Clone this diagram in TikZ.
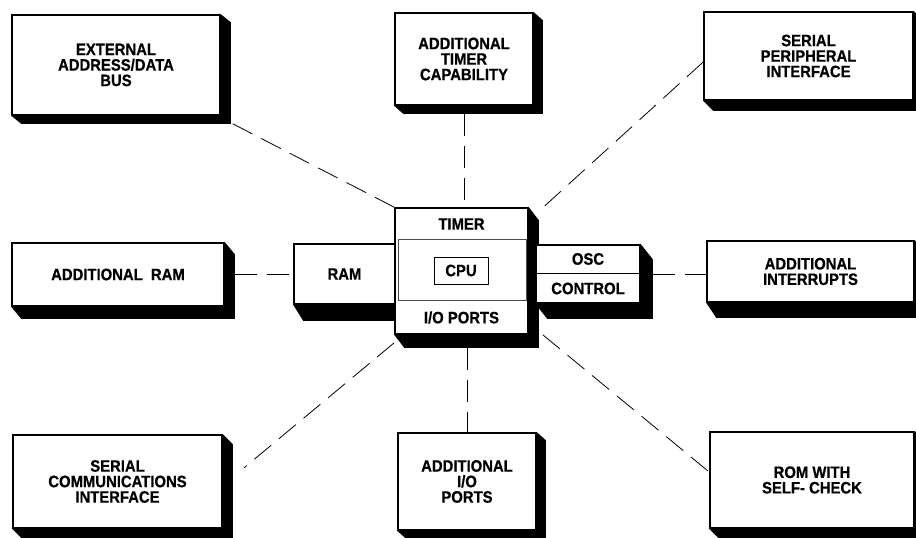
\documentclass[tikz,border=0pt]{standalone}
\usepackage{fontspec}
\setmainfont{Liberation Sans}[BoldFeatures={FakeStretch=0.9, FakeBold=0.6}]
\usetikzlibrary{backgrounds}
\tikzset{
  blk/.style={draw=black, line width=1.6pt, fill=white, inner sep=0pt,
    align=center, font=\bfseries\fontsize{16.5}{15.5}\selectfont},
  lbl/.style={inner sep=0pt, align=center, font=\bfseries\fontsize{16.5}{15.5}\selectfont},
  link/.style={draw=black, line width=0.8pt, dash pattern=on 22pt off 10pt},
  shade/.style={fill=black}
}
% drop shadow below and to the right of a block
\newcommand{\dropshadow}[3]{%
  \fill[shade] (#1.south west) -- ([shift={(#2,#3)}]#1.south west)
    -- ([shift={(#2,#3)}]#1.south east) -- ([shift={(#2,#3)}]#1.north east)
    -- (#1.north east) -- cycle;}
\begin{document}
\begin{tikzpicture}[x=1pt, y=-1pt]
\useasboundingbox (0,0) rectangle (916,538);

% outer feature blocks
\node[blk, minimum width=208pt, minimum height=100pt] (ext) at (116,65)
  {EXTERNAL\\ADDRESS/DATA\\BUS};
\node[blk, minimum width=138pt, minimum height=92pt] (tcap) at (464,59)
  {ADDITIONAL\\TIMER\\CAPABILITY};
\node[blk, minimum width=209pt, minimum height=88pt] (spi) at (808.5,56)
  {SERIAL\\PERIPHERAL\\INTERFACE};
\node[blk, minimum width=212pt, minimum height=63pt] (addram) at (118,274.5)
  {ADDITIONAL~ RAM};
\node[blk, minimum width=207pt, minimum height=61pt] (int) at (810.5,271.5)
  {ADDITIONAL\\INTERRUPTS};
\node[blk, minimum width=209pt, minimum height=93pt] (sci) at (117.5,481.5)
  {SERIAL\\COMMUNICATIONS\\INTERFACE};
\node[blk, minimum width=138pt, minimum height=97pt] (aio) at (467,481.5)
  {ADDITIONAL\\I/O\\PORTS};
\node[blk, minimum width=204pt, minimum height=96pt] (rom) at (812,480)
  {ROM WITH\\SELF- CHECK};

% the microcontroller core
\node[blk, minimum width=101pt, minimum height=60pt] (ram) at (344.5,274) {RAM};
\node[blk, minimum width=133pt, minimum height=126pt] (cpu) at (461.5,271) {};
\node[blk, minimum width=104pt, minimum height=58pt] (osc) at (588,274) {};

\draw[line width=0.6pt, draw=black!70] (398,239) rectangle (526,300);
\node[draw=black, line width=1pt, inner sep=0pt, minimum width=54pt,
  minimum height=27pt, font=\bfseries\fontsize{16.5}{15.5}\selectfont] (cpubox) at (461,270.5) {CPU};
\node[lbl] (timer) at (461.5,224) {TIMER};
\node[lbl] (ioports) at (461.5,317.5) {I/O PORTS};
\draw[line width=1pt] (osc.west |- 0,273) -- (osc.east |- 0,273);
\node[lbl] (osclbl) at (588,259) {OSC};
\node[lbl] (ctrllbl) at (588,288.5) {CONTROL};

% shadows behind every block
\begin{scope}[on background layer]
  \dropshadow{ext}{10}{8}
  \dropshadow{tcap}{9}{8}
  \dropshadow{spi}{10}{10}
  \dropshadow{addram}{10}{12}
  \dropshadow{int}{10}{15}
  \dropshadow{sci}{10}{10}
  \dropshadow{aio}{9}{8}
  \dropshadow{rom}{10}{10}
  \dropshadow{ram}{10}{16}
  \dropshadow{cpu}{10}{13}
  \dropshadow{osc}{12}{15}
\end{scope}

% dashed links to the core
\draw[link] ([shift={(12,8)}]ext.south east) -- (cpu.north west);
\draw[link] ([shift={(0,8)}]tcap.south) -- (tcap.south |- cpu.north);
\draw[link] ([shift={(0,6)}]spi.west) -- ([shift={(9,5)}]cpu.north east);
\draw[link] ([shift={(10,0)}]addram.east) -- (addram.east -| ram.west);
\draw[link] ([shift={(12,0)}]osc.east) -- (osc.east -| int.west);
\draw[link] ([shift={(0,8)}]cpu.south west) -- ([shift={(21,-13.5)}]sci.east);
\draw[link] ([shift={(0,13)}]cpu.south -| aio.north) -- (aio.north);
\draw[link] ([shift={(14,0)}]cpu.south east) -- ([shift={(0,-8)}]rom.west);
\end{tikzpicture}
\end{document}
